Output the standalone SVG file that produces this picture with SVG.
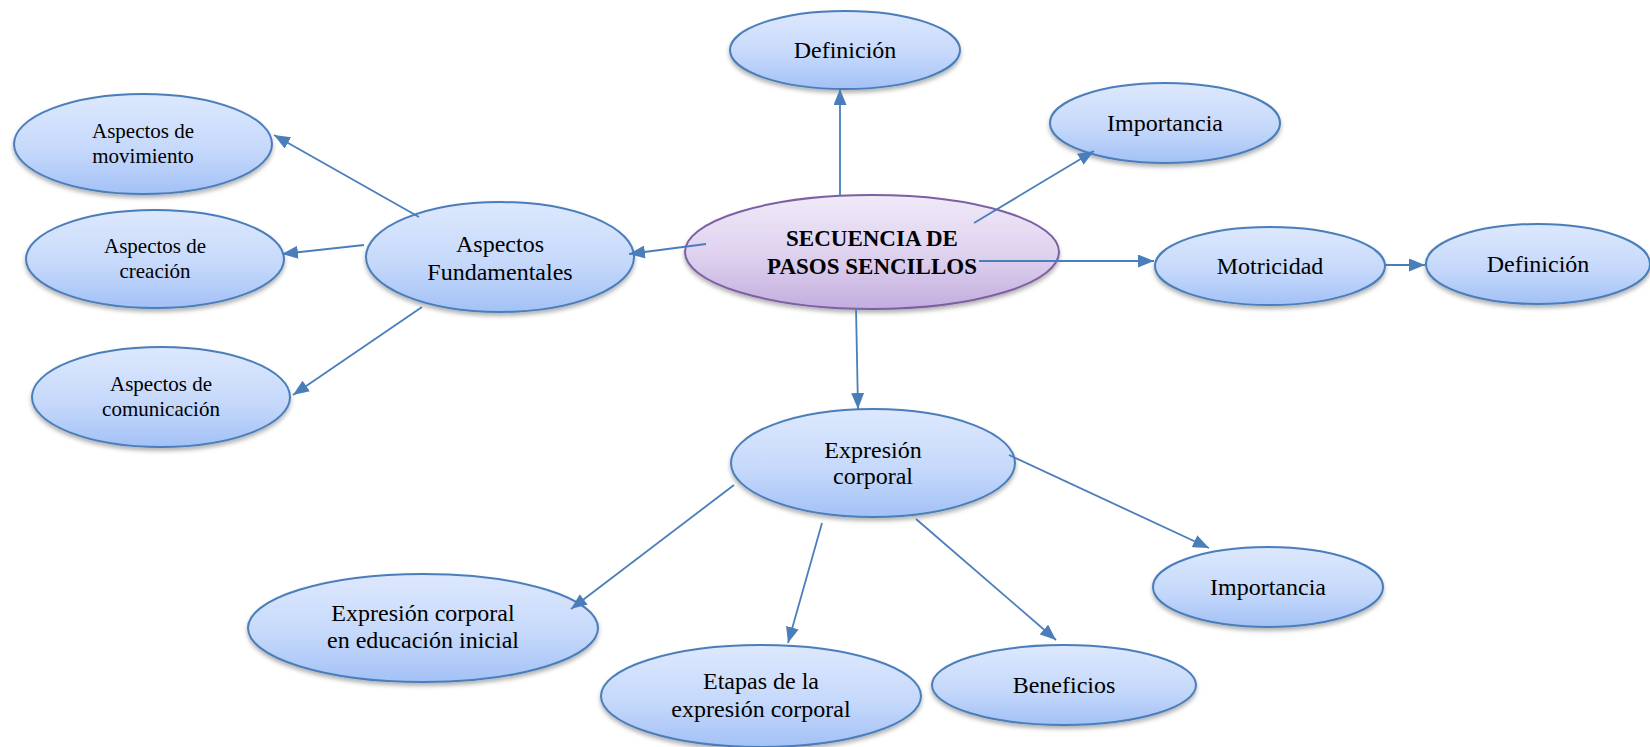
<svg xmlns="http://www.w3.org/2000/svg" width="1650" height="747" viewBox="0 0 1650 747">
<defs>
<linearGradient id="gBlue" x1="0" y1="0" x2="0" y2="1">
<stop offset="0" stop-color="#dde8fd"/>
<stop offset="0.55" stop-color="#c6d9fb"/>
<stop offset="1" stop-color="#a3c1f6"/>
</linearGradient>
<linearGradient id="gPurple" x1="0" y1="0" x2="0" y2="1">
<stop offset="0" stop-color="#f0eaf8"/>
<stop offset="0.55" stop-color="#ddd0ee"/>
<stop offset="1" stop-color="#c3addd"/>
</linearGradient>
<filter id="sh" x="-10%" y="-10%" width="120%" height="130%">
<feDropShadow dx="0" dy="3" stdDeviation="2" flood-color="#000" flood-opacity="0.3"/>
</filter>
<marker id="arr" viewBox="0 0 16 13" refX="16" refY="6.5" markerWidth="16" markerHeight="13" markerUnits="userSpaceOnUse" orient="auto">
<path d="M0,0 L16,6.5 L0,13 z" fill="#4a7ebb"/>
</marker>
<style>
.n ellipse{fill:url(#gBlue);stroke:#4a7ebb;stroke-width:2;filter:url(#sh)}
.c ellipse{fill:url(#gPurple);stroke:#7d60a4;stroke-width:2;filter:url(#sh)}
text{font-family:"Liberation Serif","Times New Roman",serif;fill:#000;text-anchor:middle}
.t24{font-size:24px}
.t21{font-size:21px}
.tb{font-size:23px;font-weight:bold}
.edges line{stroke:#4a7ebb;stroke-width:1.8;marker-end:url(#arr)}
</style>
</defs>

<g id="nodes">
<g id="n-central" class="c">
<ellipse cx="872" cy="252" rx="187" ry="57"/>
<text class="tb" x="872" y="246">SECUENCIA DE</text>
<text class="tb" x="872" y="274">PASOS SENCILLOS</text>
</g>
<g id="n-definicion-top" class="n">
<ellipse cx="845" cy="50" rx="115" ry="39"/>
<text class="t24" x="845" y="58">Definición</text>
</g>
<g id="n-importancia-top" class="n">
<ellipse cx="1165" cy="123" rx="115" ry="40"/>
<text class="t24" x="1165" y="131">Importancia</text>
</g>
<g id="n-motricidad" class="n">
<ellipse cx="1270" cy="266" rx="115" ry="39"/>
<text class="t24" x="1270" y="274">Motricidad</text>
</g>
<g id="n-definicion-right" class="n">
<ellipse cx="1538" cy="264" rx="112" ry="40"/>
<text class="t24" x="1538" y="272">Definición</text>
</g>
<g id="n-fundamentales" class="n">
<ellipse cx="500" cy="257" rx="134" ry="55"/>
<text class="t24" x="500" y="252">Aspectos</text>
<text class="t24" x="500" y="280">Fundamentales</text>
</g>
<g id="n-movimiento" class="n">
<ellipse cx="143" cy="144" rx="129" ry="50"/>
<text class="t21" x="143" y="138">Aspectos de</text>
<text class="t21" x="143" y="163">movimiento</text>
</g>
<g id="n-creacion" class="n">
<ellipse cx="155" cy="259" rx="129" ry="49"/>
<text class="t21" x="155" y="253">Aspectos de</text>
<text class="t21" x="155" y="278">creación</text>
</g>
<g id="n-comunicacion" class="n">
<ellipse cx="161" cy="397" rx="129" ry="50"/>
<text class="t21" x="161" y="391">Aspectos de</text>
<text class="t21" x="161" y="416">comunicación</text>
</g>
<g id="n-expresion" class="n">
<ellipse cx="873" cy="463" rx="142" ry="54"/>
<text class="t24" x="873" y="458">Expresión</text>
<text class="t24" x="873" y="484">corporal</text>
</g>
<g id="n-educacion" class="n">
<ellipse cx="423" cy="628" rx="175" ry="54"/>
<text class="t24" x="423" y="621">Expresión corporal</text>
<text class="t24" x="423" y="648">en educación inicial</text>
</g>
<g id="n-etapas" class="n">
<ellipse cx="761" cy="696" rx="160" ry="51"/>
<text class="t24" x="761" y="689">Etapas de la</text>
<text class="t24" x="761" y="717">expresión corporal</text>
</g>
<g id="n-beneficios" class="n">
<ellipse cx="1064" cy="685" rx="132" ry="40"/>
<text class="t24" x="1064" y="693">Beneficios</text>
</g>
<g id="n-importancia-bottom" class="n">
<ellipse cx="1268" cy="587" rx="115" ry="40"/>
<text class="t24" x="1268" y="595">Importancia</text>
</g>
</g>

<g id="connectors" class="edges">
<line x1="840" y1="195" x2="840" y2="89"/>
<line x1="974" y1="223" x2="1094" y2="151"/>
<line x1="979" y1="261" x2="1154" y2="261"/>
<line x1="1385" y1="265" x2="1425" y2="265"/>
<line x1="706" y1="244" x2="629" y2="254"/>
<line x1="856" y1="308" x2="858" y2="409"/>
<line x1="419" y1="217" x2="274" y2="135"/>
<line x1="364" y1="245" x2="282" y2="254"/>
<line x1="422" y1="307" x2="293" y2="395"/>
<line x1="734" y1="485" x2="571" y2="609"/>
<line x1="822" y1="523" x2="788" y2="643"/>
<line x1="916" y1="519" x2="1056" y2="640"/>
<line x1="1009" y1="455" x2="1209" y2="548"/>
</g>
</svg>
